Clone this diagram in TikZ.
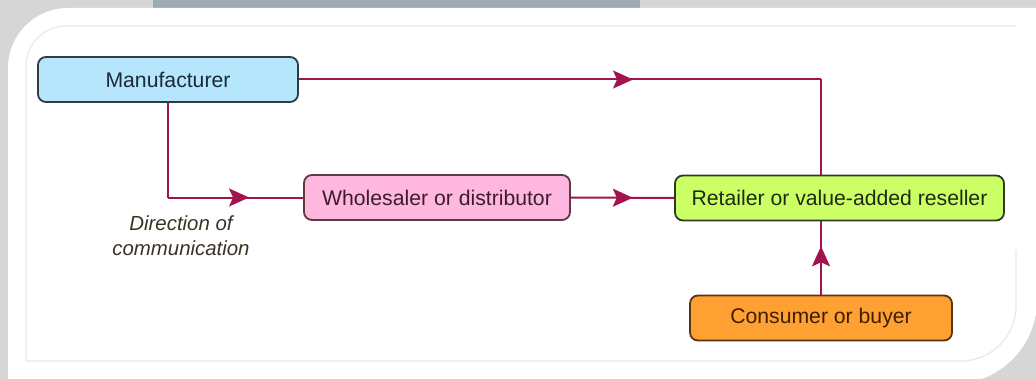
\documentclass[tikz,border=0pt]{standalone}
\usepackage{xcolor}
\usepackage{fontspec}
\setmainfont{Liberation Sans}
\usepackage{tikz}
\usetikzlibrary{positioning, arrows.meta, decorations.markings}
\definecolor{pagegray}{HTML}{D6D6D6}
\definecolor{barblue}{HTML}{9EABB2}
\definecolor{rimgray}{HTML}{E8E8E8}
\definecolor{flowred}{HTML}{A3134F}
\definecolor{mfrblue}{HTML}{B5E6FB}
\definecolor{whlpink}{HTML}{FFB6DF}
\definecolor{retlime}{HTML}{CCFF66}
\definecolor{conorange}{HTML}{FFA033}
\definecolor{notebrown}{HTML}{3B3325}

\tikzset{
  chainbox/.style={rounded corners=4pt, line width=0.9pt, minimum height=22.5pt,
    inner sep=2pt, font=\fontsize{10.6}{12}\selectfont},
  flow/.style={draw=flowred, color=flowred, line width=1pt},
  midarrow/.style={postaction={decorate}, decoration={markings,
    mark=at position #1 with {\arrow{Stealth[length=10pt, width=9pt, inset=2pt]}}}},
}

\begin{document}
\begin{tikzpicture}[x=0.5pt, y=-0.5pt]
  \clip (0,0) rectangle (1036,379);
  % page, card and its inner rim
  \fill[pagegray] (0,0) rectangle (1036,379);
  \fill[barblue] (153,0) rectangle (640,8);
  \fill[white] (8,384) -- (8,68) .. controls (8,34.9) and (34.9,8) .. (68,8)
    -- (1037,8) -- (1037,300) .. controls (1037,346.4) and (999.4,384) .. (953,384)
    -- cycle;
  \draw[rimgray, line width=0.6pt] (1016,26) -- (66,26)
    .. controls (43.9,26) and (26,43.9) .. (26,66) -- (26,361) -- (961,361)
    .. controls (991.4,361) and (1016,336.4) .. (1016,306) -- (1016,250);

  % the four parties
  \node[chainbox, draw={rgb,255:red,47;green,59;blue,69}, fill=mfrblue,
        text={rgb,255:red,27;green,42;blue,58}, minimum width=130pt]
        (mfr) at (168,79.5) {Manufacturer};
  \node[chainbox, draw={rgb,255:red,91;green,59;blue,67}, fill=whlpink,
        text={rgb,255:red,58;green,30;blue,42}, minimum width=133pt]
        (whl) at (437,197.5) {Wholesaler or distributor};
  \node[chainbox, draw={rgb,255:red,47;green,58;blue,34}, fill=retlime,
        text={rgb,255:red,30;green,42;blue,18}, minimum width=164.5pt]
        (ret) at (839.5,198) {Retailer or value-added reseller};
  \node[chainbox, draw={rgb,255:red,90;green,52;blue,16}, fill=conorange,
        text={rgb,255:red,63;green,30;blue,0}, minimum width=131pt]
        (con) at (821,318) {Consumer or buyer};

  \node[font=\fontsize{10.2}{12.5}\selectfont\itshape, text=notebrown, align=center]
        (dir) at (181,236) {Direction of\\communication};

  % flows between them
  \coordinate (topbend) at (con.north |- mfr.east);
  \coordinate (lowbend) at (mfr.south |- whl.west);
  \begin{scope}[on background layer/.try]
    \draw[flow, midarrow=0.64] (mfr.east) -- (topbend);
    \draw[flow] (topbend) -- (con.north |- ret.north);
    \draw[flow] (mfr.south) -- (lowbend);
    \draw[flow, midarrow=0.6] (lowbend) -- (whl.west);
    \draw[flow, midarrow=0.6] (whl.east) -- (ret.west);
    \draw[flow, midarrow=0.66] (con.north) -- (con.north |- ret.south);
  \end{scope}
\end{tikzpicture}
\end{document}
